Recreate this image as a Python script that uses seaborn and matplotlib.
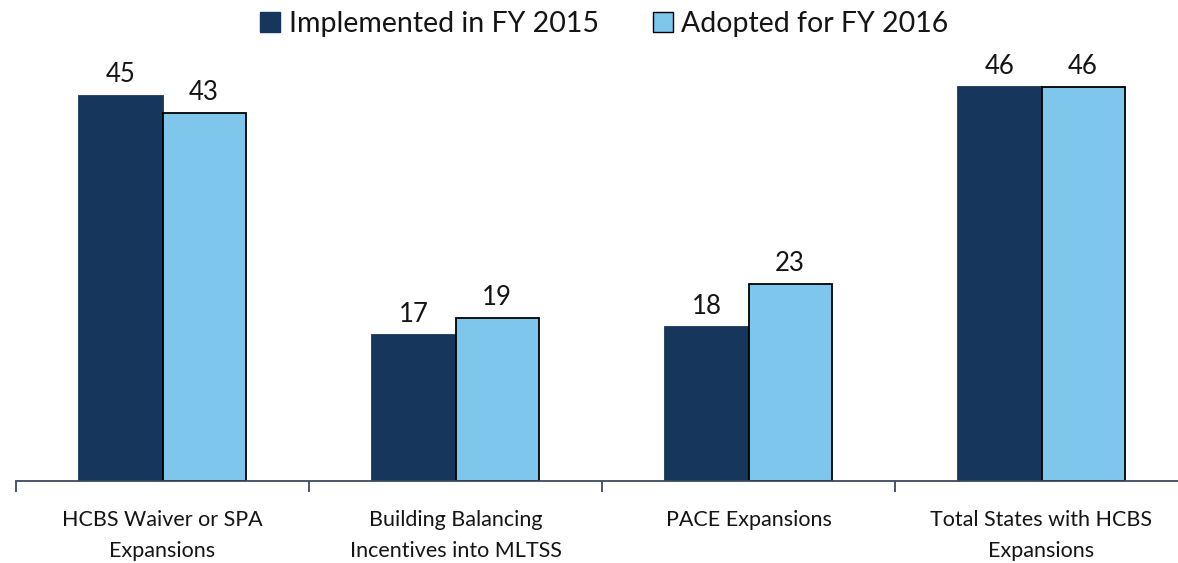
import pandas as pd
import seaborn as sns
import matplotlib.pyplot as plt
from matplotlib.patches import Patch

# data
categories = ['HCBS Waiver or SPA\nExpansions',
              'Building Balancing\nIncentives into MLTSS',
              'PACE Expansions',
              'Total States with HCBS\nExpansions']
fy2015 = [45, 17, 18, 46]
fy2016 = [43, 19, 23, 46]
series = ['Implemented in FY 2015', 'Adopted for FY 2016']

df = pd.DataFrame({
    'category': categories * 2,
    'value': fy2015 + fy2016,
    'series': [series[0]] * 4 + [series[1]] * 4,
})

sns.set_theme(style='white')
plt.rcParams['font.family'] = ['Lato', 'DejaVu Sans']

dark = '#16365c'
light = '#7fc6ec'
txt = '#141414'

fig = plt.figure(figsize=(11.78, 5.63), dpi=100)
ax = fig.add_axes([16 / 1178, 82 / 563, 1172 / 1178, 428 / 563])

sns.barplot(data=df, x='category', y='value', hue='series', order=categories,
            hue_order=series, palette=[dark, light], width=0.567, ax=ax,
            legend=False, saturation=1)

for bar_container, ec in zip(ax.containers, [dark, 'black']):
    for b in bar_container:
        b.set_edgecolor(ec)
        b.set_linewidth(1.3)
    ax.bar_label(bar_container, padding=6, fontsize=18.5, color=txt)

ax.set_xlim(-0.5, 3.5)
ax.set_ylim(0, 50)
ax.set_xlabel('')
ax.set_ylabel('')
ax.set_yticks([])
for s in ['top', 'right', 'left']:
    ax.spines[s].set_visible(False)
ax.spines['bottom'].set_color('#3a4a5c')
ax.spines['bottom'].set_linewidth(1.3)

ax.set_xticks(range(4))
ax.set_xticklabels(categories, fontsize=15.5, color=txt, linespacing=1.7)
ax.tick_params(axis='x', which='major', length=0, pad=21)
ax.set_xticks([-0.5, 0.5, 1.5, 2.5, 3.5], minor=True)
ax.tick_params(axis='x', which='minor', length=8, width=1.3, color='#3a4a5c',
               direction='out', bottom=True)

handles = [Patch(facecolor=dark, edgecolor=dark),
           Patch(facecolor=light, edgecolor='black')]
fig.legend(handles, series, loc='upper center', bbox_to_anchor=(0.513, 1.026), ncol=2,
           frameon=False, fontsize=20.5, handlelength=0.7, handleheight=0.7,
           handletextpad=0.3, columnspacing=1.9, labelcolor=txt)

fig.savefig('out.png', dpi=100)
